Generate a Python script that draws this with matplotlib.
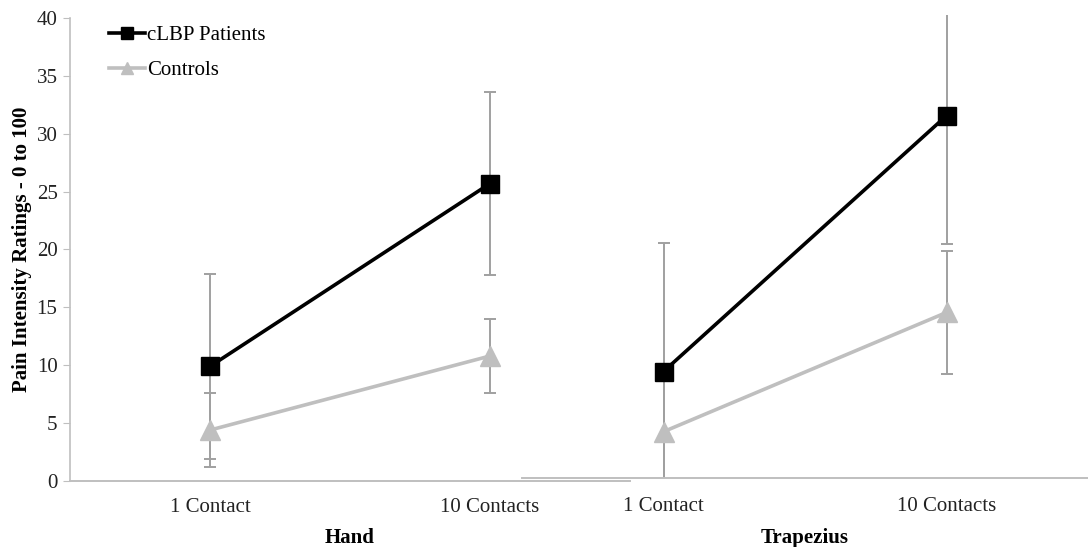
import numpy as np
import matplotlib
matplotlib.use('Agg')
import matplotlib.pyplot as plt

plt.rcParams.update({'font.family': 'Liberation Serif', 'font.size': 15})

# pain ratings (mean, SD) per site: [1 Contact, 10 Contacts]
conditions = ['1 Contact', '10 Contacts']
sites = ['Hand', 'Trapezius']
clbp_mean = {'Hand': [9.9, 25.7], 'Trapezius': [9.2, 31.3]}
clbp_err = {'Hand': [8.0, 7.9], 'Trapezius': [11.1, 11.1]}
ctrl_mean = {'Hand': [4.4, 10.8], 'Trapezius': [4.0, 14.3]}
ctrl_err = {'Hand': [3.2, 3.2], 'Trapezius': [4.5, 5.3]}

W, H = 1088, 547
fig = plt.figure(figsize=(W / 100, H / 100), dpi=100)

# two side-by-side panels sharing the y scale (pixel boxes: left, bottom, width, height)
boxes = {'Hand': (70, 481, 560, 463), 'Trapezius': (522, 478, 566, 463)}
tick_pad = {'Hand': 12, 'Trapezius': 14}
axis_grey = '#BFBFBF'
err_grey = '#A0A0A0'

axes = {}
for site in sites:
    l, b, w, h = boxes[site]
    ax = fig.add_axes([l / W, (H - b) / H, w / W, h / H])
    ax.patch.set_visible(False)
    x = np.arange(len(conditions))
    ax.errorbar(x, ctrl_mean[site], yerr=ctrl_err[site], fmt='none',
                ecolor=err_grey, elinewidth=1.4, capsize=4, capthick=1.4, zorder=2)
    ax.errorbar(x, clbp_mean[site], yerr=clbp_err[site], fmt='none',
                ecolor=err_grey, elinewidth=1.4, capsize=4, capthick=1.4, zorder=2)
    ax.plot(x, ctrl_mean[site], color='#BFBFBF', lw=2.6, marker='^',
            markersize=14, label='Controls', zorder=3)
    ax.plot(x, clbp_mean[site], color='black', lw=2.6, marker='s',
            markersize=13, label='cLBP Patients', zorder=4)
    ax.set_xlim(-0.5, 1.5)
    ax.set_ylim(0, 40)
    ax.set_xticks(x)
    ax.set_xticklabels(conditions)
    ax.tick_params(axis='x', length=0, pad=tick_pad[site], labelcolor='#222222')
    ax.set_xlabel(site, fontweight='bold', labelpad=8)
    for s in ['top', 'right']:
        ax.spines[s].set_visible(False)
    ax.spines['bottom'].set_color(axis_grey)
    ax.spines['bottom'].set_linewidth(1.4)
    axes[site] = ax

ax1 = axes['Hand']
ax1.spines['left'].set_color(axis_grey)
ax1.spines['left'].set_linewidth(1.2)
ax1.set_yticks(np.arange(0, 41, 5))
ax1.tick_params(axis='y', length=5, color=axis_grey, pad=4, labelcolor='#222222')
ax1.set_ylabel('Pain Intensity Ratings - 0 to 100', fontweight='bold', labelpad=3)

ax2 = axes['Trapezius']
ax2.spines['left'].set_visible(False)
ax2.set_yticks([])

handles, labels = ax1.get_legend_handles_labels()
ax1.legend(handles[::-1], labels[::-1], loc='upper left', bbox_to_anchor=(0.07, 0.983),
           frameon=False, borderpad=0, borderaxespad=0, handlelength=1.7,
           handletextpad=0.1, labelspacing=0.72, markerscale=0.65)

fig.savefig('out.png', dpi=100)
